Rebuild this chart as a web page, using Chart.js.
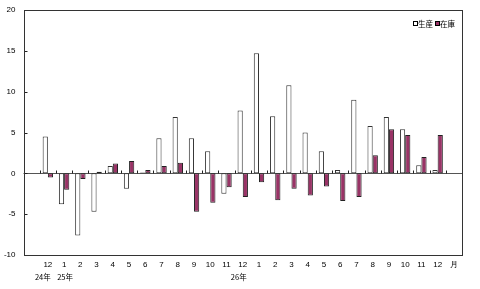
<!DOCTYPE html>
<html>
<head>
<meta charset="utf-8">
<script src="https://cdn.jsdelivr.net/npm/chart.js@4"></script>
<style>
  body { margin: 0; background: #fff; }
</style>
</head>
<body>
<canvas id="chart" width="480" height="289"></canvas>
<script>
// month labels (first slot empty, last slot is the "月" unit)
const months = ['', '12', '1', '2', '3', '4', '5', '6', '7', '8', '9', '10', '11',
  '12', '1', '2', '3', '4', '5', '6', '7', '8', '9', '10', '11', '12', '月'];
// year labels under some months
const years = ['', '24年', '25年', '', '', '', '', '', '', '', '', '', '',
  '26年', '', '', '', '', '', '', '', '', '', '', '', '', ''];

const production = [null, 4.5, -3.8, -7.6, -4.7, 0.9, -1.9, 0.1, 4.3, 6.9, 4.3, 2.7, -2.5,
  7.7, 14.7, 7.0, 10.8, 5.0, 2.7, 0.4, 9.0, 5.8, 6.9, 5.4, 1.0, 0.4, null];
const inventory = [null, -0.5, -2.0, -0.7, 0.2, 1.2, 1.5, 0.4, 0.9, 1.3, -4.7, -3.6, -1.7,
  -2.9, -1.1, -3.3, -1.9, -2.7, -1.6, -3.4, -2.9, 2.2, 5.4, 4.7, 2.0, 4.7, null];

const yTicks = [-10, -5, 0, 5, 10, 15, 20];

const NUMFONT = '"Liberation Sans", Arial, sans-serif';
const JPFONT = '"Noto Sans CJK JP", sans-serif';

// zero line, small ticks, frame, year labels and legend
const extras = {
  id: 'extras',
  beforeDatasetsDraw(chart) {
    const { ctx, chartArea: a, scales: { y } } = chart;
    const y0 = Math.round(y.getPixelForValue(0)) + 0.5;
    ctx.save();
    ctx.strokeStyle = '#555';
    ctx.lineWidth = 1;
    ctx.beginPath();
    ctx.moveTo(a.left, y0);
    ctx.lineTo(a.right, y0);
    ctx.stroke();
    ctx.restore();
  },
  afterDraw(chart) {
    const { ctx, chartArea: a, scales: { x, y } } = chart;
    const y0 = Math.round(y.getPixelForValue(0)) + 0.5;
    const L = Math.round(a.left) + 0.5, R = Math.round(a.right) + 0.5;
    const T = Math.round(a.top) + 0.5, B = Math.round(a.bottom) + 0.5;
    ctx.save();
    ctx.lineWidth = 1;
    ctx.strokeStyle = '#222';
    ctx.beginPath();
    // category boundary ticks on the zero line
    for (let i = 0; i < months.length - 1; i++) {
      const bx = Math.round((x.getPixelForValue(i) + x.getPixelForValue(i + 1)) / 2) + 0.5;
      ctx.moveTo(bx, y0);
      ctx.lineTo(bx, y0 - 3);
    }
    // inner y ticks
    yTicks.forEach(v => {
      const ty = Math.round(y.getPixelForValue(v)) + 0.5;
      ctx.moveTo(L, ty);
      ctx.lineTo(L + 3, ty);
    });
    ctx.stroke();
    // frame
    ctx.strokeStyle = '#333';
    ctx.strokeRect(L, T, R - L, B - T);

    // year labels under months
    const shift = { '24年': -5, '25年': 1, '26年': -4 };
    ctx.fillStyle = '#000';
    ctx.font = '7.5px ' + JPFONT;
    ctx.textAlign = 'center';
    ctx.textBaseline = 'middle';
    years.forEach((t, i) => {
      if (t) ctx.fillText(t, x.getPixelForValue(i) + shift[t], B + 22);
    });

    // legend
    ctx.textAlign = 'left';
    ctx.fillStyle = '#fff';
    ctx.strokeStyle = '#000';
    ctx.fillRect(413.5, 21.5, 4, 4);
    ctx.strokeRect(413.5, 21.5, 4, 4);
    ctx.fillStyle = '#000';
    ctx.fillText('生産', 418, 24);
    ctx.fillStyle = '#993366';
    ctx.fillRect(435.5, 21.5, 4, 4);
    ctx.strokeRect(435.5, 21.5, 4, 4);
    ctx.fillStyle = '#000';
    ctx.fillText('在庫', 440, 24);
    ctx.restore();
  }
};

new Chart(document.getElementById('chart'), {
  type: 'bar',
  data: {
    labels: months,
    datasets: [{
      label: '生産',
      data: production,
      backgroundColor: '#ffffff',
      borderColor: '#333333',
      borderWidth: 1,
      borderSkipped: false,
      categoryPercentage: 0.64,
      barPercentage: 1.0
    }, {
      label: '在庫',
      data: inventory,
      backgroundColor: '#993366',
      borderColor: '#222222',
      borderWidth: 1,
      borderSkipped: false,
      categoryPercentage: 0.64,
      barPercentage: 1.0
    }]
  },
  options: {
    responsive: false,
    animation: false,
    layout: { padding: { top: 10, right: 18, left: 0, bottom: 0 } },
    plugins: { legend: { display: false }, tooltip: { enabled: false } },
    scales: {
      x: {
        grid: { display: false, drawTicks: false },
        border: { display: false },
        ticks: {
          color: '#000',
          font: { size: 8, family: NUMFONT },
          maxRotation: 0,
          autoSkip: false,
          padding: 5
        },
        afterFit(s) { s.height = 34; s.paddingLeft = 0; s.paddingRight = 0; }
      },
      y: {
        min: -10,
        max: 20,
        afterBuildTicks(s) { s.ticks = yTicks.map(v => ({ value: v })); },
        grid: { display: false, drawTicks: false },
        border: { display: false },
        ticks: {
          color: '#000',
          font: { size: 8, family: NUMFONT },
          padding: 8
        },
        afterFit(s) { s.width = 23.5; s.paddingTop = 0; s.paddingBottom = 0; }
      }
    }
  },
  plugins: [extras]
});
</script>
</body>
</html>
